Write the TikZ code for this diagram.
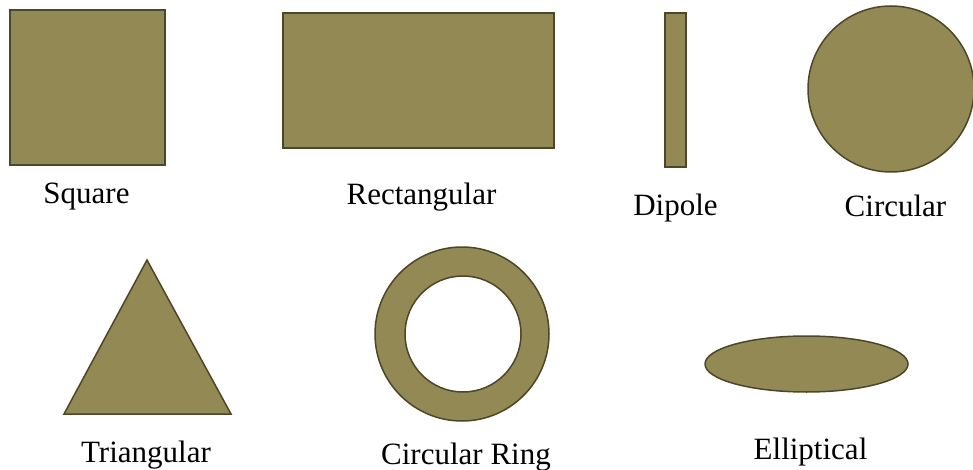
\documentclass[tikz,border=0pt]{standalone}
\usepackage{fontspec}
\setmainfont{Liberation Serif}
\usepackage{tikz}
\usetikzlibrary{positioning}
\definecolor{patchF}{HTML}{928954}
\definecolor{patchD}{HTML}{4D4628}
\tikzset{
  patch/.style={fill=patchF, draw=patchD, line width=0.75pt},
  lbl/.style={anchor=base, inner sep=0pt, font=\fontsize{15.5}{18}\selectfont}
}

\begin{document}
\begin{tikzpicture}[x=0.5pt, y=-0.5pt]
\useasboundingbox (0,0) rectangle (973,470);
% top row
\draw[patch] (10,10) rectangle (165,165);
\draw[patch] (283,13) rectangle (554,148);
\draw[patch] (665,13) rectangle (686,167);
\draw[patch] (891,89) circle (83);
% bottom row
\draw[patch] (147,260) -- (231,414) -- (64,414) -- cycle;
\draw[patch, even odd rule] (462,334) circle (87) (463,334) circle (58);
\draw[patch] (806.5,364) ellipse (101.5 and 28);
% labels
\node[lbl] (square) at (86.5,204) {Square};
\node[lbl] (rect) at (421.5,205) {Rectangular};
\node[lbl] (dipole) at (675.5,215) {Dipole};
\node[lbl] (circ) at (895.5,216) {Circular};
\node[lbl] (tri) at (146,462) {Triangular};
\node[lbl] (ring) at (466,464) {Circular Ring};
\node[lbl] (ell) at (810.5,459) {Elliptical};
\end{tikzpicture}
\end{document}
